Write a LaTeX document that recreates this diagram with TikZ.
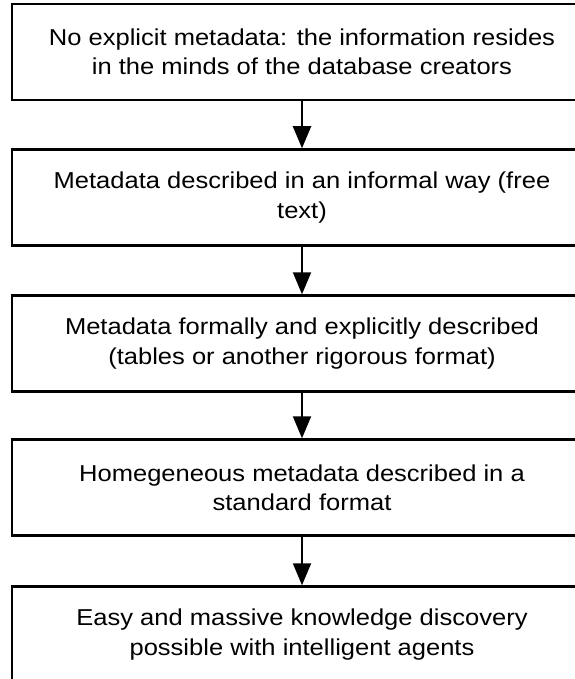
\documentclass[tikz,border=0pt]{standalone}
\usepackage{fontspec}
\setmainfont{Liberation Sans}[FakeStretch=1.11]
\usetikzlibrary{arrows.meta}
\begin{document}
\begin{tikzpicture}[x=1pt,y=1pt,
  stage/.style={draw=black, line width=2.5pt, rectangle, minimum width=580pt,
    minimum height=96pt, align=center, inner sep=0pt,
    font=\fontsize{23}{29.3}\selectfont},
  flow/.style={line width=2pt, -{Triangle[length=22pt,width=18pt]}}]
\useasboundingbox (0,0) rectangle (574,-679);
\node[stage] (s1) at (302,-52)    {No explicit metadata: the information resides\\in the minds of the database creators};
\node[stage] (s2) at (302,-197.5) {Metadata described in an informal way (free\\text)};
\node[stage] (s3) at (302,-343.5) {Metadata formally and explicitly described\\(tables or another rigorous format)};
\node[stage] (s4) at (302,-487.5) {Homegeneous metadata described in a\\standard format};
\node[stage] (s5) at (302,-634.5) {Easy and massive knowledge discovery\\possible with intelligent agents};
\draw[flow] (s1) -- (s2);
\draw[flow] (s2) -- (s3);
\draw[flow] (s3) -- (s4);
\draw[flow] (s4) -- (s5);
\end{tikzpicture}
\end{document}
